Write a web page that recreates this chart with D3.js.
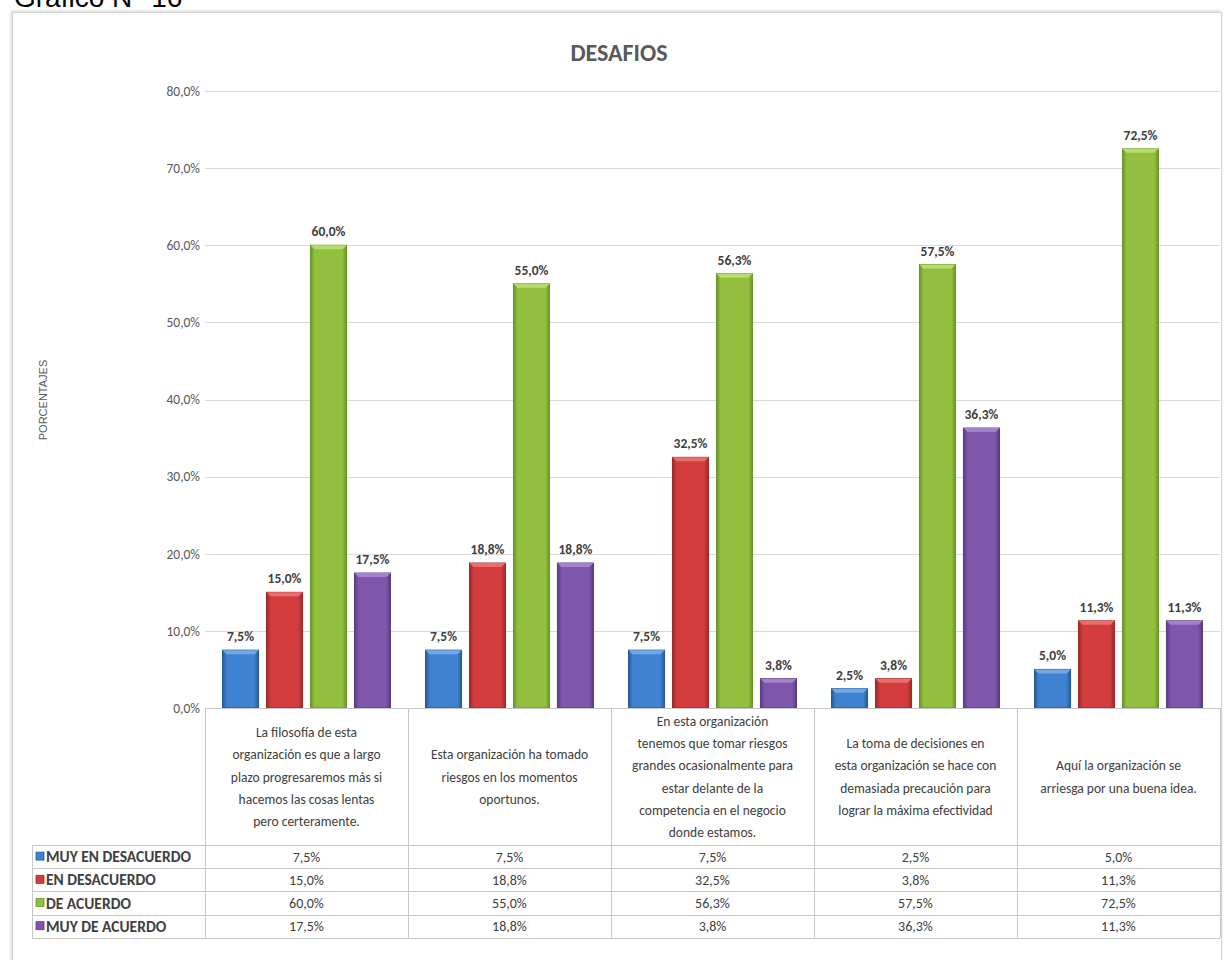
<!DOCTYPE html>
<html>
<head>
<meta charset="utf-8">
<script src="https://cdn.jsdelivr.net/npm/d3@7"></script>
<style>
  html, body { margin: 0; padding: 0; background: #ffffff; }
  svg { display: block; }
</style>
</head>
<body>
<script>
// Survey results: "DESAFIOS"
const categories = [
  ["La filosofía de esta", "organización es que a largo", "plazo progresaremos más si", "hacemos las cosas lentas", "pero certeramente."],
  ["Esta organización ha tomado", "riesgos en los momentos", "oportunos."],
  ["En esta organización", "tenemos que tomar riesgos", "grandes ocasionalmente para", "estar delante de la", "competencia en el negocio", "donde estamos."],
  ["La toma de decisiones en", "esta organización se hace con", "demasiada precaución para", "lograr la máxima efectividad"],
  ["Aquí la organización se", "arriesga por una buena idea."]
];
const seriesNames = ["MUY EN DESACUERDO", "EN DESACUERDO", "DE ACUERDO", "MUY DE ACUERDO"];
const muyEnDesacuerdo = [7.5, 7.5, 7.5, 2.5, 5.0];
const enDesacuerdo = [15.0, 18.8, 32.5, 3.8, 11.3];
const deAcuerdo = [60.0, 55.0, 56.3, 57.5, 72.5];
const muyDeAcuerdo = [17.5, 18.8, 3.8, 36.3, 11.3];
const yTicks = [0, 10, 20, 30, 40, 50, 60, 70, 80];

const seriesValues = [muyEnDesacuerdo, enDesacuerdo, deAcuerdo, muyDeAcuerdo];
const palette = [
  { mid: "#3f82d2", light: "#74a9e6", dark: "#285a98" },
  { mid: "#d23c3c", light: "#e8706c", dark: "#9c2a2a" },
  { mid: "#92c03e", light: "#b6dc6e", dark: "#6b942a" },
  { mid: "#7e56ac", light: "#a183cb", dark: "#593c80" }
];

const W = 1227, H = 960;
const FONT = "Carlito, Lato, 'Open Sans', sans-serif";
const fmt = v => d3.format(".1f")(v).replace(".", ",") + "%";

const svg = d3.select("body").append("svg").attr("width", W).attr("height", H);
const defs = svg.append("defs");

palette.forEach((p, i) => {
  const g = defs.append("linearGradient").attr("id", "bar" + i)
    .attr("x1", "0").attr("x2", "1").attr("y1", "0").attr("y2", "0");
  g.append("stop").attr("offset", "0%").attr("stop-color", p.dark);
  g.append("stop").attr("offset", "12%").attr("stop-color", p.mid);
  g.append("stop").attr("offset", "88%").attr("stop-color", p.mid);
  g.append("stop").attr("offset", "100%").attr("stop-color", p.dark);
});

const shadow = defs.append("filter").attr("id", "frameShadow")
  .attr("x", "-2%").attr("y", "-2%").attr("width", "104%").attr("height", "104%");
shadow.append("feDropShadow").attr("dx", -1).attr("dy", -1).attr("stdDeviation", 1.5)
  .attr("flood-color", "#000").attr("flood-opacity", 0.18);

// Page caption above the chart frame
svg.append("text").attr("x", 14).attr("y", 7)
  .attr("font-family", "'Liberation Sans', Arial, sans-serif")
  .attr("font-size", 28).attr("fill", "#000")
  .text("Gráfico N° 16");

// Chart frame
svg.append("rect").attr("x", 12.5).attr("y", 12.5).attr("width", 1209).attr("height", 960)
  .attr("fill", "#fff").attr("stroke", "#d4d4d4").attr("stroke-width", 1)
  .attr("filter", "url(#frameShadow)");

// Title
svg.append("text").attr("x", 619).attr("y", 61).attr("text-anchor", "middle")
  .attr("font-family", FONT).attr("font-weight", "bold").attr("font-size", 24)
  .attr("fill", "#595959").text("DESAFIOS");

// Scales
const plotLeft = 205, plotRight = 1220;
const y = d3.scaleLinear().domain([0, 80]).range([708, 91]);
const x0 = d3.scaleBand().domain(d3.range(categories.length)).range([plotLeft, plotRight]).paddingInner(0).paddingOuter(0);
const x1 = d3.scaleBand().domain(d3.range(seriesNames.length)).range([17.5, x0.bandwidth() - 17.5]).paddingInner(0.18).paddingOuter(0);

// Gridlines
svg.append("g").selectAll("line").data(yTicks.filter(t => t > 0)).join("line")
  .attr("x1", plotLeft).attr("x2", plotRight)
  .attr("y1", d => Math.round(y(d)) + 0.5).attr("y2", d => Math.round(y(d)) + 0.5)
  .attr("stroke", "#d9d9d9").attr("stroke-width", 1.2);

// Y axis labels
const yAxis = d3.axisLeft(y).tickValues(yTicks).tickFormat(fmt).tickSize(0).tickPadding(5);
const gy = svg.append("g").attr("transform", `translate(${plotLeft},0)`).call(yAxis);
gy.select(".domain").remove();
gy.selectAll("text").attr("font-family", FONT).attr("font-size", 13.5).attr("fill", "#595959");

// Axis title
svg.append("text").attr("transform", "translate(47,400) rotate(-90)").attr("text-anchor", "middle")
  .attr("font-family", "'Liberation Sans', Arial, sans-serif").attr("font-size", 11)
  .attr("fill", "#595959").text("PORCENTAJES");

// Bars
const groups = svg.append("g").selectAll("g").data(categories.map((c, i) => i)).join("g")
  .attr("transform", i => `translate(${x0(i)},0)`);

groups.each(function (ci) {
  const g = d3.select(this);
  seriesValues.forEach((vals, si) => {
    const v = vals[ci];
    const bx = x1(si), bw = x1.bandwidth();
    const top = y(v), bot = y(0);
    g.append("rect").attr("x", bx).attr("y", top).attr("width", bw).attr("height", bot - top)
      .attr("fill", `url(#bar${si})`).attr("stroke", palette[si].dark).attr("stroke-width", 1);
    // bevelled top edge
    const bev = Math.min(4, (bot - top) / 2);
    g.append("path")
      .attr("d", `M${bx},${top} L${bx + bw},${top} L${bx + bw - 4},${top + bev} L${bx + 4},${top + bev} Z`)
      .attr("fill", palette[si].light);
    g.append("text").attr("x", bx + bw / 2).attr("y", top - 9).attr("text-anchor", "middle")
      .attr("font-family", FONT).attr("font-weight", "bold").attr("font-size", 13.5)
      .attr("fill", "#404040").text(fmt(v));
  });
});

// Data table under the plot
const tableTop = 708, headerBottom = 845, rowH = 23.2, legendLeft = 32;
const tableBottom = headerBottom + rowH * seriesNames.length;
const tbl = svg.append("g").attr("stroke", "#c8c8c8").attr("stroke-width", 1);

// vertical column lines
const colEdges = d3.range(categories.length + 1).map(i => i < categories.length ? x0(i) : plotRight);
tbl.selectAll("line.v").data(colEdges).join("line").attr("class", "v")
  .attr("x1", d => Math.round(d) + 0.5).attr("x2", d => Math.round(d) + 0.5)
  .attr("y1", tableTop).attr("y2", tableBottom);
tbl.append("line").attr("x1", legendLeft + 0.5).attr("x2", legendLeft + 0.5)
  .attr("y1", headerBottom).attr("y2", tableBottom);
// horizontal row lines
const rowEdges = d3.range(seriesNames.length + 1).map(i => headerBottom + rowH * i);
tbl.selectAll("line.h").data(rowEdges).join("line").attr("class", "h")
  .attr("x1", legendLeft).attr("x2", plotRight)
  .attr("y1", d => Math.round(d) + 0.5).attr("y2", d => Math.round(d) + 0.5);
tbl.append("line").attr("x1", plotLeft).attr("x2", plotRight)
  .attr("y1", tableTop + 0.5).attr("y2", tableTop + 0.5);

// header texts
const lineH = 22.2;
categories.forEach((lines, ci) => {
  const cx = x0(ci) + x0.bandwidth() / 2;
  const cy = (tableTop + headerBottom) / 2;
  const start = cy - (lines.length - 1) * lineH / 2;
  svg.append("text").attr("text-anchor", "middle")
    .attr("font-family", FONT).attr("font-size", 13.5).attr("fill", "#404040")
    .selectAll("tspan").data(lines).join("tspan")
    .attr("x", cx).attr("y", (d, i) => start + i * lineH + 5).text(d => d);
});

// legend + value rows
seriesNames.forEach((name, si) => {
  const cy = headerBottom + rowH * si + rowH / 2;
  svg.append("rect").attr("x", legendLeft + 4).attr("y", cy - 4.5).attr("width", 8).attr("height", 8)
    .attr("fill", palette[si].mid).attr("stroke", palette[si].dark).attr("stroke-width", 0.8);
  svg.append("text").attr("x", legendLeft + 14).attr("y", cy + 5.5)
    .attr("font-family", FONT).attr("font-weight", "bold").attr("font-size", 15.5)
    .attr("fill", "#404040").attr("textLength", 155).attr("lengthAdjust", "spacingAndGlyphs")
    .attr("textLength", null)
    .text(name);
  seriesValues[si].forEach((v, ci) => {
    svg.append("text").attr("x", x0(ci) + x0.bandwidth() / 2).attr("y", cy + 5)
      .attr("text-anchor", "middle").attr("font-family", FONT).attr("font-size", 14)
      .attr("fill", "#404040").text(fmt(v));
  });
});
</script>
</body>
</html>
